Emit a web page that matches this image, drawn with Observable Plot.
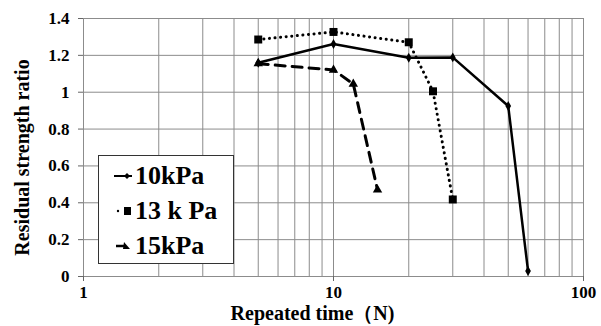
<!DOCTYPE html>
<html>
<head>
<meta charset="utf-8">
<script src="https://cdn.jsdelivr.net/npm/d3@7"></script>
<script src="https://cdn.jsdelivr.net/npm/@observablehq/plot@0.6"></script>
<style>
  body { margin: 0; background: #fff; }
  #wrap { position: relative; width: 601px; height: 326px; font-family: "Liberation Serif", "Times New Roman", "DejaVu Serif", serif; }
  #wrap svg text { font-weight: bold; }
  #wrap svg g[aria-label="x-axis tick label"] text,
  #wrap svg g[aria-label="y-axis tick label"] text { font-size: 17px !important; font-family: "Liberation Serif", serif !important; }
  #legend { position: absolute; left: 98px; top: 155px; width: 136px; height: 109px; border: 1.3px solid #333; background: #fff; box-sizing: border-box; }
  .item { position: absolute; left: 0; height: 30px; display: flex; align-items: center; font-weight: bold; font-size: 26px; color: #000; }
  .item svg { margin-left: 15px; margin-right: 1px; }
</style>
</head>
<body>
<div id="wrap"></div>
<script>
// Data
const series = ["10kPa", "13 k Pa", "15kPa"];
const n10 = [5, 10, 20, 30, 50, 60];
const r10 = [1.16, 1.262, 1.187, 1.189, 0.925, 0.03];
const n13 = [5, 10, 20, 25, 30];
const r13 = [1.286, 1.327, 1.271, 1.005, 0.418];
const n15 = [5, 10, 12, 15];
const r15 = [1.155, 1.121, 1.045, 0.47];

const xTicks = [1, 10, 100];
const xGrid = [1, 2, 3, 4, 5, 6, 7, 8, 9, 10, 20, 30, 40, 50, 60, 70, 80, 90, 100];
const yTicks = [0, 0.2, 0.4, 0.6, 0.8, 1, 1.2, 1.4];
const xTitle = "Repeated time（N)";
const yTitle = "Residual strength ratio";

const d10 = n10.map((n, i) => ({n, r: r10[i]}));
const d13 = n13.map((n, i) => ({n, r: r13[i]}));
const d15 = n15.map((n, i) => ({n, r: r15[i]}));

const chart = Plot.plot({
  width: 601,
  height: 326,
  marginLeft: 83,
  marginRight: 18,
  marginTop: 18,
  marginBottom: 50,
  style: { fontFamily: "'Liberation Serif', 'Times New Roman', serif", background: "#fff", fontSize: "17px", overflow: "visible" },
  x: { type: "log", domain: [1, 100] },
  y: { domain: [0, 1.4] },
  marks: [
    Plot.ruleX(xGrid, { stroke: "#8c8c8c", strokeWidth: 1 }),
    Plot.ruleY(yTicks, { stroke: "#8c8c8c", strokeWidth: 1 }),
    Plot.axisX(xTicks, { tickSize: 5, tickPadding: 4, tickFormat: d => String(d), fontSize: 17, label: null, stroke: "#666" }),
    Plot.axisY(yTicks, { tickSize: 5, tickPadding: 9, tickFormat: d => String(d), fontSize: 17, label: null, stroke: "#666" }),
    Plot.line(d10, { x: "n", y: "r", stroke: "#000", strokeWidth: 2.5 }),
    Plot.line(d13, { x: "n", y: "r", stroke: "#000", strokeWidth: 3, strokeDasharray: "0.1 5.5", strokeLinecap: "round" }),
    Plot.line(d15, { x: "n", y: "r", stroke: "#000", strokeWidth: 3, strokeDasharray: "10 7" }),
    Plot.dot(d10, { x: "n", y: "r", symbol: "diamond", r: 3, fill: "#000" }),
    Plot.dot(d13, { x: "n", y: "r", symbol: "square", r: 4.5, fill: "#000" }),
    Plot.dot(d15, { x: "n", y: "r", symbol: "triangle", r: 3.5, fill: "#000" }),
    Plot.text([xTitle], { frameAnchor: "bottom", dx: -21, dy: 43, fontSize: 20, fill: "#000" }),
    Plot.text([yTitle], { frameAnchor: "left", textAnchor: "middle", dx: -61, dy: 10, rotate: -90, fontSize: 20, fill: "#000" })
  ]
});
const wrap = document.getElementById("wrap");
wrap.appendChild(chart);

// Legend (HTML)
const legend = document.createElement("div");
legend.id = "legend";
const syms = [
  `<line x1="0" y1="8" x2="18" y2="8" stroke="#000" stroke-width="2"/><path d="M13,5 L16,8 L13,11 L10,8 Z" fill="#000"/>`,
  `<circle cx="4" cy="8" r="1.2" fill="#000"/><rect x="10" y="4" width="7" height="8" fill="#000"/>`,
  `<line x1="2" y1="8" x2="10" y2="8" stroke="#000" stroke-width="2.5"/><path d="M10,4 L16,11 L9,11 Z" fill="#000"/>`
];
const tops = [5, 40, 75];
series.forEach((s, i) => {
  const it = document.createElement("div");
  it.className = "item";
  it.style.top = tops[i] + "px";
  it.innerHTML = `<svg width="20" height="16">${syms[i]}</svg><span>${s}</span>`;
  legend.appendChild(it);
});
wrap.appendChild(legend);
</script>
</body>
</html>
